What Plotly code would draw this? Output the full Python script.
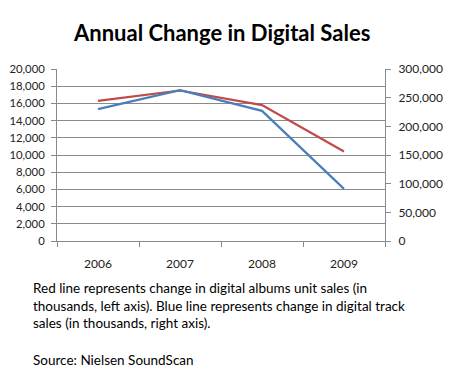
import plotly.graph_objects as go

years = ["2006", "2007", "2008", "2009"]
albums = [16300, 17500, 15800, 10400]          # left axis, thousands
tracks = [230000, 263000, 227000, 91000]       # right axis, thousands
left_ticks = list(range(0, 20001, 2000))
right_ticks = list(range(0, 300001, 50000))

title_text = "Annual Change in Digital Sales"
caption_lines = [
    "Red line represents change in digital albums unit sales (in",
    "thousands, left axis). Blue line represents change in digital track",
    "sales (in thousands, right axis).",
]
source_text = "Source: Nielsen SoundScan"

FONT = "Lato, Carlito, 'Open Sans', sans-serif"
GRID = "#8a8a8a"

fig = go.Figure()
fig.add_trace(go.Scatter(x=years, y=albums, mode="lines", name="Albums",
                         line=dict(color="#BE4B48", width=2.2), yaxis="y"))
fig.add_trace(go.Scatter(x=years, y=tracks, mode="lines", name="Tracks",
                         line=dict(color="#4A7EBB", width=2.2), yaxis="y2"))

# page body has an 8px margin, so the figure is sized/offset to compensate
fig.update_layout(
    width=447, height=363,
    margin=dict(l=49, r=70, t=61, b=130),
    paper_bgcolor="white", plot_bgcolor="white",
    showlegend=False,
    font=dict(family=FONT, size=12, color="#222"),
    xaxis=dict(type="category", range=[-0.5, 3.5], showgrid=False,
               showline=True, linecolor=GRID, linewidth=1,
               ticks="outside", tickson="boundaries", ticklen=5, tickcolor=GRID,
               ticklabelstandoff=12,
               tickfont=dict(size=12), zeroline=False),
    yaxis=dict(range=[0, 20000], tickvals=left_ticks, tickformat=",d",
               showgrid=True, gridcolor=GRID, gridwidth=1,
               showline=True, linecolor=GRID, linewidth=1,
               ticks="outside", ticklen=5, tickcolor=GRID, zeroline=False,
               ticklabelstandoff=4,
               tickfont=dict(size=11.3), automargin=False),
    yaxis2=dict(range=[0, 300000], tickvals=right_ticks, tickformat=",d",
                overlaying="y", side="right", showgrid=False,
                showline=True, linecolor=GRID, linewidth=1,
                ticks="outside", ticklen=5, tickcolor=GRID, zeroline=False,
                ticklabelstandoff=5,
                tickfont=dict(size=12), automargin=False),
)

fig.add_annotation(text="<b>" + title_text + "</b>", xref="paper", yref="paper",
                   x=0.5, y=1, yshift=37, xanchor="center", yanchor="middle",
                   showarrow=False, font=dict(size=22, color="black", family=FONT))

fig.add_annotation(text="<br>".join(caption_lines), xref="paper", yref="paper",
                   x=0, xshift=-26, y=0, yshift=-37, xanchor="left", yanchor="top",
                   align="left", showarrow=False,
                   font=dict(size=13.5, color="black", family=FONT))
fig.add_annotation(text=source_text, xref="paper", yref="paper",
                   x=0, xshift=-26, y=0, yshift=-119, xanchor="left", yanchor="middle",
                   align="left", showarrow=False,
                   font=dict(size=13.5, color="black", family=FONT))

fig.write_html("out.html")
